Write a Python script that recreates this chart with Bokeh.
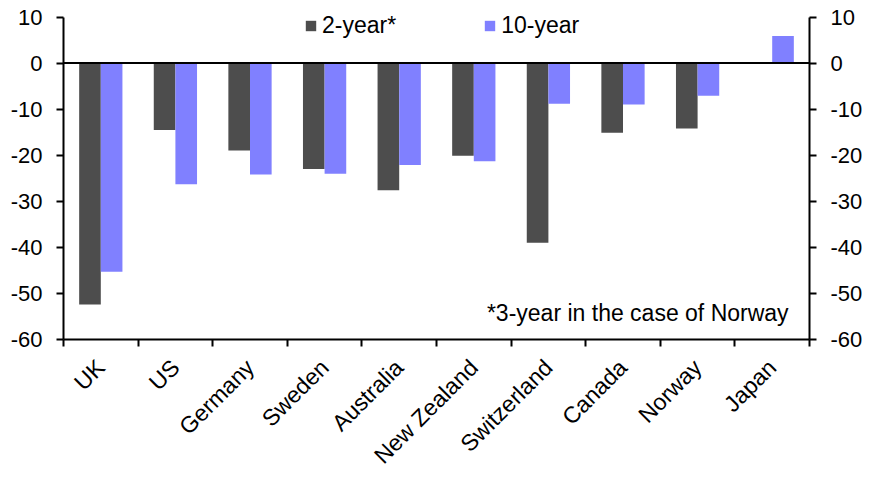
import math
from bokeh.plotting import figure
from bokeh.models import (Range1d, LinearAxis, FixedTicker, Span, Legend, LegendItem,
                          Label, ColumnDataSource)
from bokeh.embed import file_html
from bokeh.resources import INLINE

countries = ["UK", "US", "Germany", "Sweden", "Australia", "New Zealand",
             "Switzerland", "Canada", "Norway", "Japan"]
two_year = [-52.4, -14.5, -19.0, -23.0, -27.6, -20.1, -39.0, -15.1, -14.2, float("nan")]
ten_year = [-45.3, -26.3, -24.2, -24.0, -22.1, -21.3, -8.8, -9.0, -7.1, 5.9]
y_ticks = [10, 0, -10, -20, -30, -40, -50, -60]
note = "*3-year in the case of Norway"

FONT = "Liberation Sans"
FS_AX = "22px"
FS_X = "23px"
FS_TXT = "23px"
DARK = "#4D4D4D"
PURPLE = "#8080FF"

n = len(countries)
bw = 0.29
centers = [i + 0.5 for i in range(n)]

src = ColumnDataSource(dict(
    x2=[c - bw / 2 for c in centers],
    x10=[c + bw / 2 for c in centers],
    two=two_year,
    ten=ten_year,
))

p = figure(frame_width=746, frame_height=334,
           min_border_left=63, min_border_right=55, min_border_top=5, min_border_bottom=135,
           x_range=Range1d(0, n), y_range=Range1d(-60, 12.5),
           output_backend="svg", toolbar_location=None,
           x_axis_location=None, y_axis_location=None)

p.xgrid.visible = False
p.ygrid.visible = False
p.outline_line_color = None
p.background_fill_color = "white"
p.border_fill_color = "white"

r2 = p.vbar(x="x2", top="two", bottom=0, width=bw, source=src,
            fill_color=DARK, line_color=None)
r10 = p.vbar(x="x10", top="ten", bottom=0, width=bw, source=src,
             fill_color=PURPLE, line_color=None)

p.add_layout(Span(location=0, dimension="width", line_color="black", line_width=2))

def style_y(ax):
    ax.ticker = FixedTicker(ticks=y_ticks)
    ax.major_label_overrides = {t: str(t) for t in y_ticks}
    ax.bounds = (-60, 10)
    ax.axis_line_width = 2
    ax.axis_line_color = "black"
    ax.major_tick_line_width = 2
    ax.major_tick_in = 0
    ax.major_tick_out = 7
    ax.minor_tick_line_color = None
    ax.major_label_text_font = FONT
    ax.major_label_text_font_size = FS_AX
    ax.major_label_text_color = "black"
    ax.major_label_standoff = 14

ly = LinearAxis()
style_y(ly)
p.add_layout(ly, "left")
ry = LinearAxis()
style_y(ry)
p.add_layout(ry, "right")

xa = LinearAxis()
xa.ticker = FixedTicker(ticks=centers, minor_ticks=list(range(n + 1)))
xa.major_label_overrides = {c: name for c, name in zip(centers, countries)}
xa.axis_line_width = 2
xa.axis_line_color = "black"
xa.major_tick_line_color = None
xa.major_tick_in = 0
xa.major_tick_out = 0
xa.minor_tick_line_color = "black"
xa.minor_tick_line_width = 2
xa.minor_tick_in = 0
xa.minor_tick_out = 7
xa.major_label_orientation = math.pi / 4
xa.major_label_text_font = FONT
xa.major_label_text_font_size = FS_X
xa.major_label_text_color = "black"
xa.major_label_standoff = 17
p.add_layout(xa, "below")

legend = Legend(items=[LegendItem(label="2-year*", renderers=[r2]),
                       LegendItem(label="10-year", renderers=[r10])],
                orientation="horizontal", location=(241, 300),
                glyph_width=13, glyph_height=13, label_standoff=5, spacing=87,
                padding=0, margin=0, border_line_color=None, background_fill_alpha=0,
                label_text_font=FONT, label_text_font_size=FS_TXT, label_text_color="black")
p.add_layout(legend, "center")

p.add_layout(Label(x=9.72, y=-54.3, text=note, text_align="right", text_baseline="middle",
                   text_font=FONT, text_font_size=FS_TXT, text_color="black"))

open("out.html", "w").write(file_html(p, INLINE))
